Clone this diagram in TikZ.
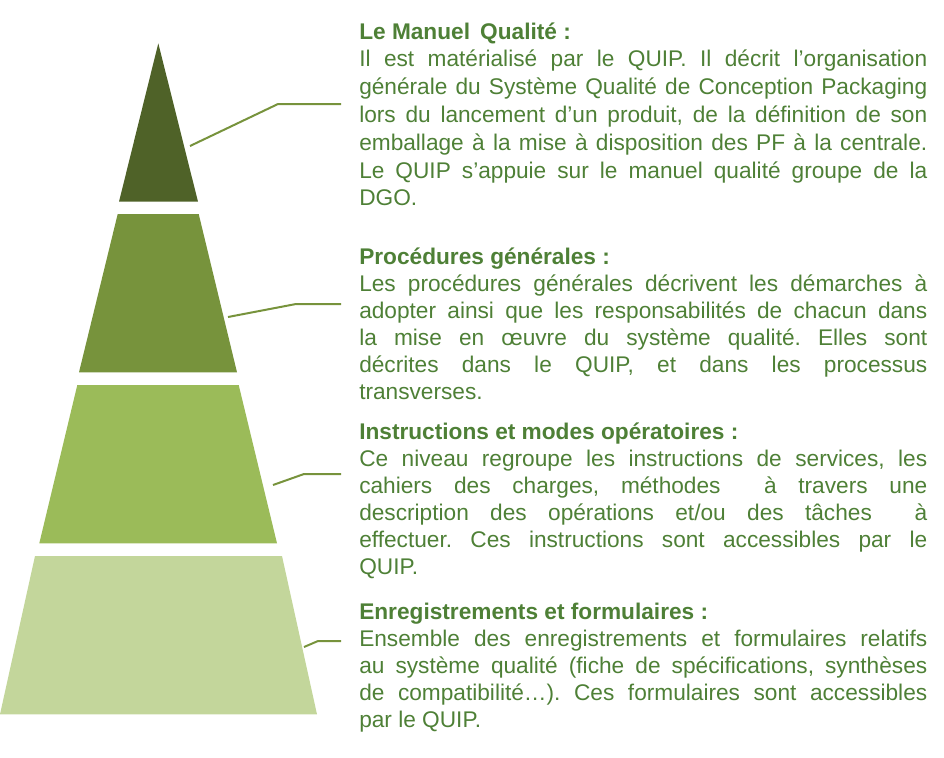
\documentclass[tikz,border=0pt]{standalone}
\usepackage{fontspec}
\setmainfont{Liberation Sans}
\definecolor{vertfonce}{HTML}{4F6228}
\definecolor{vertmoyen}{HTML}{77933C}
\definecolor{vertclair}{HTML}{9BBB59}
\definecolor{vertpale}{HTML}{C3D69B}
\definecolor{verttexte}{HTML}{4E8036}
\frenchspacing
\begin{document}
\begin{tikzpicture}[x=0.75pt, y=-0.75pt,
	trait/.style={draw=vertmoyen, line width=1.5pt},
	texte/.style={anchor=base west, inner sep=0pt, text width=426pt, align=justify,
		text=verttexte, font=\fontsize{17}{20.25}\selectfont}]
	\useasboundingbox (0,0) rectangle (944,757);
	
	\fill[vertfonce] (158.3,43.3) -- (198,201.7) -- (119,201.7) -- cycle;
	\fill[vertmoyen] (117.7,214) -- (198.7,214) -- (237,372.3) -- (79,372.3) -- cycle;
	\fill[vertclair] (77.3,385) -- (238.7,385) -- (277,543.3) -- (39.3,543.3) -- cycle;
	\fill[vertpale] (35,556) -- (282,556) -- (317,714.3) -- (0,714.3) -- cycle;
	
	\coordinate (manuelpt) at (190,146);
	\coordinate (procpt) at (228,317);
	\coordinate (instrpt) at (273,485);
	\coordinate (enregpt) at (304,647);
	\coordinate (manuelfin) at (341,104);
	\coordinate (procfin) at (341,304);
	\coordinate (instrfin) at (341,474);
	\coordinate (enregfin) at (341,641);
	
	\node[texte, font=\fontsize{17}{20.85}\selectfont] (manuel) at (359,39) {\textbf{Le Manuel\, Qualité :}\\
		Il est matérialisé par le QUIP. Il décrit l'organisation\linebreak
		générale du Système Qualité de Conception Packaging\linebreak
		lors du lancement d’un produit, de la définition de son\linebreak
		emballage à la mise à disposition des PF à la centrale.\linebreak
		Le QUIP s’appuie sur le manuel qualité groupe de la\linebreak
		DGO.};
	\node[texte] (proc) at (359,264) {\textbf{Procédures générales :}\\
		Les procédures générales décrivent les démarches à\linebreak
		adopter ainsi que les responsabilités de chacun dans\linebreak
		la mise en œuvre du système qualité. Elles sont\linebreak
		décrites dans le QUIP, et dans les processus\linebreak
		transverses.};
	\node[texte] (instr) at (359,439) {\textbf{Instructions et modes opératoires :}\\
		Ce niveau regroupe les instructions de services, les\linebreak
		cahiers des charges, méthodes \ à travers une\linebreak
		description des opérations et/ou des tâches \ à\linebreak
		effectuer. Ces instructions sont accessibles par le\linebreak
		QUIP.};
	\node[texte] (enreg) at (359,619) {\textbf{Enregistrements et formulaires :}\\
		Ensemble des enregistrements et formulaires relatifs\linebreak
		au système qualité (fiche de spécifications, synthèses\linebreak
		de compatibilité…). Ces formulaires sont accessibles\linebreak
		par le QUIP.};
	
	\draw[trait] (manuelpt) -- (278,104) -- (manuelfin);
	\draw[trait] (procpt) -- (296,304) -- (procfin);
	\draw[trait] (instrpt) -- (304,474) -- (instrfin);
	\draw[trait] (enregpt) -- (318,641) -- (enregfin);
\end{tikzpicture}
\end{document}
